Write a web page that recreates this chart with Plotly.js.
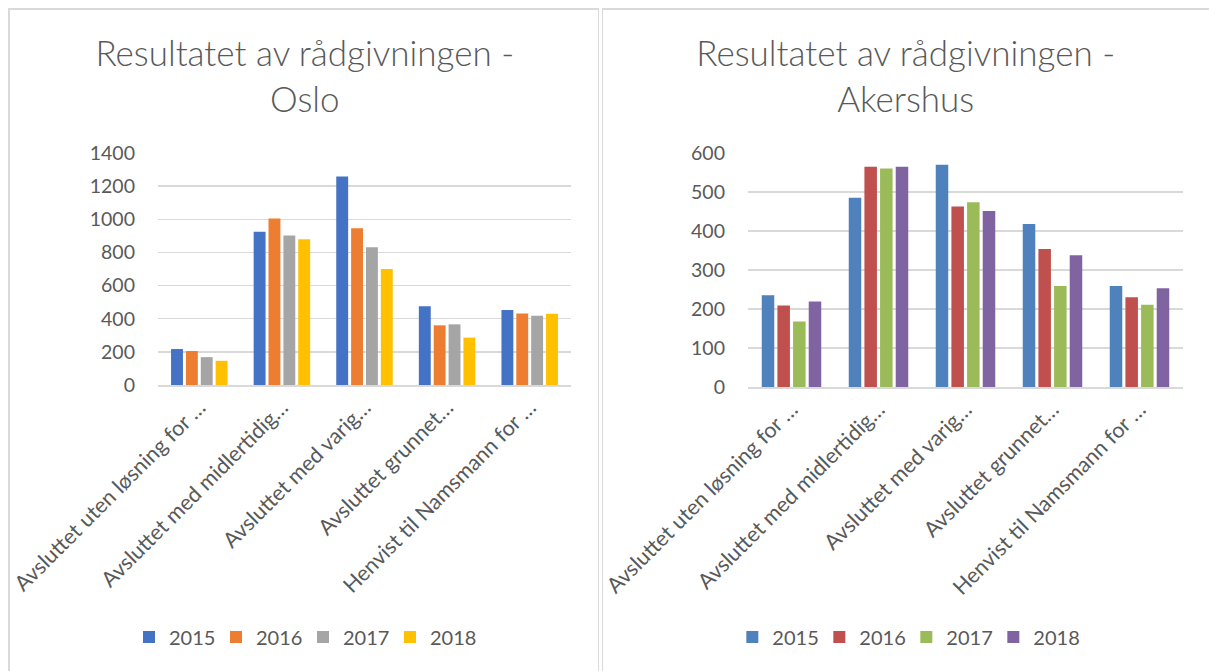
<!DOCTYPE html>
<html>
<head>
<meta charset="utf-8">
<script src="https://cdn.plot.ly/plotly-3.0.1.min.js"></script>
<style>
  html, body { margin:0; padding:0; background:#fff; }
  #wrap { position:relative; width:1209px; height:671px; overflow:hidden; background:#fff; }
  .pane { position:absolute; top:0; height:671px; }
  #b1 { position:absolute; left:8px; top:8px; width:591px; height:680px; border-left:2px solid #d9d9d9; border-top:2px solid #d9d9d9; border-right:1px solid #d9d9d9; box-sizing:border-box; }
  #b2 { position:absolute; left:602px; top:8px; width:620px; height:680px; border-left:1px solid #d9d9d9; border-top:2px solid #d9d9d9; box-sizing:border-box; }
</style>
</head>
<body>
<div id="wrap">
  <div id="b1"></div>
  <div id="b2"></div>
  <div id="osloDiv" class="pane" style="left:0px;width:600px;"></div>
  <div id="akDiv" class="pane" style="left:600px;width:609px;"></div>
</div>
<script>
// ---- data ----
const categories = [
  "Avsluttet uten løsning for …",
  "Avsluttet med midlertidig…",
  "Avsluttet med varig…",
  "Avsluttet grunnet…",
  "Henvist til Namsmann for …"
];
const years = ["2015", "2016", "2017", "2018"];

const oslo2015 = [217, 925, 1258, 475, 453];
const oslo2016 = [205, 1005, 946, 360, 431];
const oslo2017 = [168, 902, 831, 366, 418];
const oslo2018 = [146, 880, 700, 286, 430];

const akershus2015 = [235, 485, 570, 418, 259];
const akershus2016 = [209, 565, 463, 354, 230];
const akershus2017 = [168, 560, 474, 259, 211];
const akershus2018 = [219, 565, 451, 338, 253];

const osloTitle = "Resultatet av rådgivningen -<br>Oslo";
const akershusTitle = "Resultatet av rådgivningen -<br>Akershus";

const osloColors = ["#4472C4", "#ED7D31", "#A5A5A5", "#FFC000"];
const akershusColors = ["#4F81BD", "#C0504D", "#9BBB59", "#8064A2"];

const FONT = "Lato, 'Noto Sans', sans-serif";
const TXT = "#595959";

function makeTraces(series, colors) {
  return series.map((vals, i) => ({
    type: "bar",
    name: years[i],
    x: categories,
    y: vals,
    marker: { color: colors[i], line: { width: 0 } },
    hoverinfo: "none"
  }));
}

function makeLayout(title, ymax, dtick, m, legendX, titleX) {
  return {
    width: m.w, height: 671,
    margin: { l: m.l, r: m.r, t: 153, b: m.b, pad: 0 },
    paper_bgcolor: "rgba(0,0,0,0)",
    plot_bgcolor: "rgba(0,0,0,0)",
    barmode: "group",
    bargap: 0.28,
    bargroupgap: 0.2,
    font: { family: FONT, color: TXT, size: 19 },
    title: {
      text: title,
      font: { family: FONT, size: 35, color: TXT, weight: 300 },
      x: titleX, xref: "container", xanchor: "center",
      y: 1 - 66/671, yref: "container", yanchor: "top"
    },
    showlegend: true,
    legend: {
      orientation: "h",
      entrywidth: 42,
      xref: "container", x: legendX, xanchor: "center",
      yref: "container", y: 1 - 637/671, yanchor: "middle",
      font: { family: FONT, size: 20, color: TXT },
      traceorder: "normal"
    },
    xaxis: {
      type: "category",
      tickangle: -45,
      showgrid: false,
      showline: true, linecolor: "#d9d9d9", linewidth: 1.5,
      ticks: "",
      tickfont: { family: FONT, size: 21.5, color: TXT },
      fixedrange: true
    },
    yaxis: {
      range: [0, ymax], dtick: dtick,
      showgrid: true, gridcolor: "#d9d9d9", gridwidth: 1.5,
      zeroline: false, showline: false,
      ticks: "", ticklabelstandoff: 22,
      tickfont: { family: FONT, size: 19.5, color: TXT },
      fixedrange: true
    }
  };
}

Plotly.newPlot("osloDiv",
  makeTraces([oslo2015, oslo2016, oslo2017, oslo2018], osloColors),
  makeLayout(osloTitle, 1400, 200, { w: 600, l: 158, r: 29, b: 286 }, 0.505, 0.508),
  { staticPlot: true });

Plotly.newPlot("akDiv",
  makeTraces([akershus2015, akershus2016, akershus2017, akershus2018], akershusColors),
  makeLayout(akershusTitle, 600, 100, { w: 609, l: 148, r: 26, b: 284 }, 0.503, 0.502),
  { staticPlot: true });
</script>
</body>
</html>
